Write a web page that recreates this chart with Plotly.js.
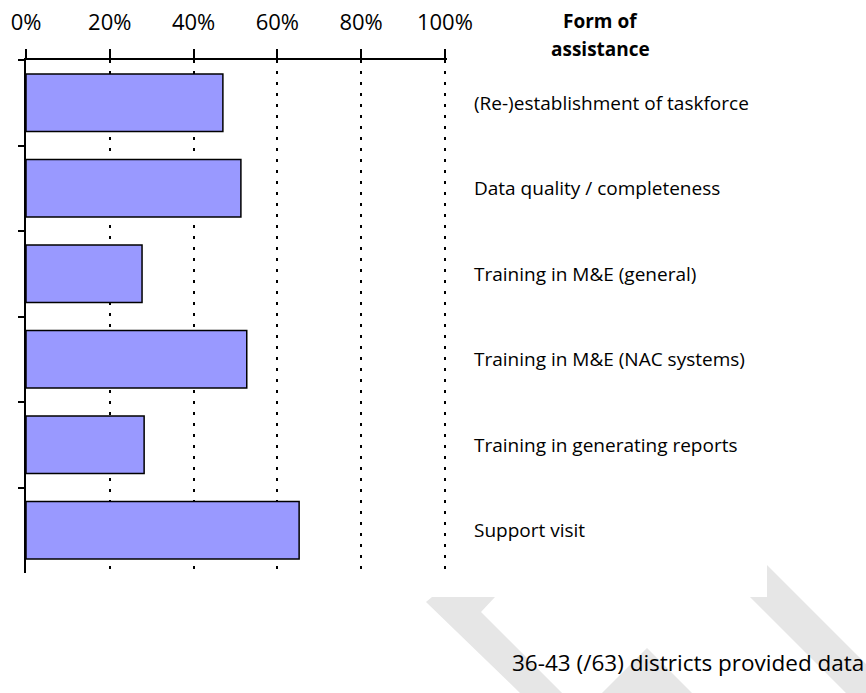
<!DOCTYPE html>
<html>
<head>
<meta charset="utf-8">
<script src="https://cdn.plot.ly/plotly-3.0.1.min.js"></script>
<style>html,body{margin:0;padding:0;background:#fff;}#chart{width:866px;height:693px;}</style>
</head>
<body>
<div id="chart"></div>
<script>
const categories = [
  "(Re-)establishment of taskforce",
  "Data quality / completeness",
  "Training in M&E (general)",
  "Training in M&E (NAC systems)",
  "Training in generating reports",
  "Support visit"
];
const shares = [0.47, 0.513, 0.277, 0.527, 0.282, 0.652];
const tickVals = [0, 0.2, 0.4, 0.6, 0.8, 1.0];
const tickText = ["0%", "20%", "40%", "60%", "80%", "100%"];
const headerLines = ["Form of", "assistance"];
const footerText = "36-43 (/63) districts provided data";

const FONT = "'Open Sans', Lato, sans-serif";
const W = 866, H = 693, L = 26, R = 447, T = 60, B = 573;
const XMAX = 1.005;
const px = x => (x - L) / (R - L);
const py = y => (B - y) / (B - T);
function poly(pts) {
  return 'M' + pts.map(p => px(p[0]).toFixed(4) + ',' + py(p[1]).toFixed(4)).join(' L') + ' Z';
}
const wmColor = '#e6e6e6';
const shapes = [
  {type:'path', xref:'paper', yref:'paper', layer:'below', line:{width:0}, fillcolor:wmColor,
   path: poly([[432,597],[495,597],[481,612],[562,693],[520,693],[426,602]])},
  {type:'path', xref:'paper', yref:'paper', layer:'below', line:{width:0}, fillcolor:wmColor,
   path: poly([[647,648],[692,693],[602,693]])},
  {type:'path', xref:'paper', yref:'paper', layer:'below', line:{width:0}, fillcolor:wmColor,
   path: poly([[767,565],[866,664],[866,693],[846,693],[750,597],[767,597]])}
];

const annotations = categories.map(c => ({
  xref:'paper', yref:'y', x: px(472), y: c, xanchor:'left', yanchor:'middle',
  text: c, showarrow:false, font:{family:FONT, size:19, color:'#000'}
}));
headerLines.forEach((t, i) => annotations.push({
  xref:'paper', yref:'paper', x: px(600), y: py(21 + 28 * i), xanchor:'center', yanchor:'middle',
  text: '<b>' + t + '</b>', showarrow:false, font:{family:FONT, size:19, color:'#000'}
}));
annotations.push({xref:'paper', yref:'paper', x: px(866), y: py(662), xanchor:'right', yanchor:'middle',
  text: footerText, showarrow:false, font:{family:FONT, size:22.5, color:'#000'}});

const data = [{
  type:'bar', orientation:'h', x: shares, y: categories,
  marker:{color:'#9999FF', line:{color:'#000', width:1.5}},
  hoverinfo:'none'
}];

const layout = {
  width:W, height:H, margin:{l:L, r:W-R, t:T, b:H-B, pad:0},
  paper_bgcolor:'#fff', plot_bgcolor:'rgba(0,0,0,0)',
  showlegend:false, bargap:0.33,
  xaxis:{side:'top', range:[0,XMAX], tickvals:tickVals, ticktext:tickText,
    ticks:'outside', ticklen:9, tickwidth:2, tickcolor:'#000',
    showline:true, linecolor:'#000', linewidth:2,
    showgrid:true, gridcolor:'#000', gridwidth:2, griddash:'3px,8px',
    zeroline:false, ticklabelstandoff:10,
    tickfont:{family:FONT, size:22, color:'#000'}, fixedrange:true},
  xaxis2:{side:'top', overlaying:'x', range:[0,XMAX], tickvals:tickVals, showticklabels:false,
    ticks:'inside', ticklen:8, tickwidth:2, tickcolor:'#000', showgrid:false, zeroline:false, showline:false},
  yaxis:{autorange:'reversed', type:'category', tickson:'boundaries', ticks:'outside', ticklen:6,
    tickwidth:2, tickcolor:'#000', showticklabels:false, showline:true, linecolor:'#000', linewidth:2,
    showgrid:false, zeroline:false, fixedrange:true},
  shapes:shapes, annotations:annotations
};
Plotly.newPlot('chart', data, layout, {staticPlot:true, displayModeBar:false});
</script>
</body>
</html>
